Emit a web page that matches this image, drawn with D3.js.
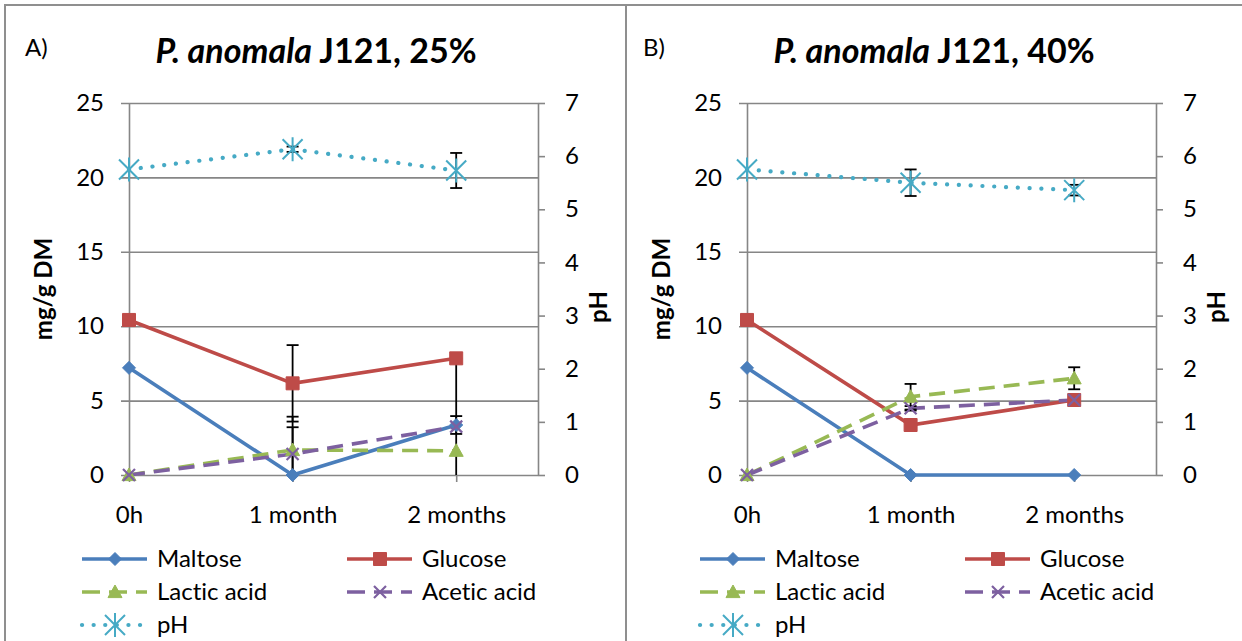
<!DOCTYPE html>
<html><head><meta charset="utf-8">
<script src="https://cdn.jsdelivr.net/npm/d3@7"></script>
<style>
body{margin:0;background:#fff}
svg{display:block}
text{font-family:Lato,"Open Sans",sans-serif;fill:#000;font-variant-ligatures:none}
</style>
</head><body>
<svg id="chart" width="1242" height="641"></svg>
<script>
// ---------- data ----------
const categories = ["0h", "1 month", "2 months"];
const leftTicks = [0, 5, 10, 15, 20, 25];
const rightTicks = [0, 1, 2, 3, 4, 5, 6, 7];
const seriesNames = ["Maltose", "Glucose", "Lactic acid", "Acetic acid", "pH"];

// Panel A: 25%
const maltoseA = [7.2, 0, 3.36];
const glucoseA = [10.42, 6.16, 7.84];
const lacticA  = [0, 1.68, 1.63];
const aceticA  = [0, 1.41, 3.25];
const pHA      = [5.75, 6.13, 5.73];
const maltoseErrA = [0, 3.92, 0.6];
const glucoseErrA = [0, 2.57, 0];
const lacticErrA  = [0, 0, 6.2];
const aceticErrA  = [0, 1.8, 0];
const pHErrA      = [0, 0.05, 0.33];

// Panel B: 40%
const maltoseB = [7.2, 0, 0];
const glucoseB = [10.42, 3.36, 5.04];
const lacticB  = [0, 5.26, 6.5];
const aceticB  = [0, 4.48, 5.04];
const pHB      = [5.75, 5.50, 5.36];
const maltoseErrB = [0, 0, 0];
const glucoseErrB = [0, 0, 0];
const lacticErrB  = [0, 0.86, 0.74];
const aceticErrB  = [0, 0.15, 0];
const pHErrB      = [0, 0.25, 0.1];

const panels = [
  {label: "A)", pct: "25%", values: [maltoseA, glucoseA, lacticA, aceticA, pHA],
   errors: [maltoseErrA, glucoseErrA, lacticErrA, aceticErrA, pHErrA]},
  {label: "B)", pct: "40%", values: [maltoseB, glucoseB, lacticB, aceticB, pHB],
   errors: [maltoseErrB, glucoseErrB, lacticErrB, aceticErrB, pHErrB]}
];

// ---------- styles ----------
const colors = ["#4A7EBB", "#BE4B48", "#98B954", "#7D60A0", "#46AAC5"];
const markers = ["diamond", "square", "triangle", "x", "star"];
const dashes = [null, null, "16,9", "16,9", "0.1,11.7"];
const axisSide = ["L", "L", "L", "L", "R"];
const gridColor = "#868686";
const FS = 24;

const svg = d3.select("#chart");

// frame
svg.append("path")
  .attr("d", "M5,641 V5 H1242 M626,5 V641")
  .attr("fill", "none").attr("stroke", "#8f8f8f").attr("stroke-width", 2);

function markerPath(type, s) {
  const h = s / 2;
  switch (type) {
    case "diamond": return `M0,${-h}L${h},0L0,${h}L${-h},0Z`;
    case "square": return `M${-h},${-h}H${h}V${h}H${-h}Z`;
    case "triangle": return `M0,${-h}L${h},${h*0.8}L${-h},${h*0.8}Z`;
    case "x": return `M${-h},${-h}L${h},${h}M${-h},${h}L${h},${-h}`;
    case "star": return `M${-h},${-h}L${h},${h}M${-h},${h}L${h},${-h}M0,${-h*1.2}V${h*1.2}`;
  }
}
const markerSize = [13, 13, 14, 12, 20];

function drawMarker(g, type, i, cx, cy) {
  const p = g.append("path").attr("d", markerPath(type, markerSize[i]))
    .attr("transform", `translate(${cx},${cy})`);
  if (type === "x" || type === "star") {
    p.attr("fill", "none").attr("stroke", colors[i]).attr("stroke-width", type === "star" ? 2 : 2.2);
  } else {
    p.attr("fill", colors[i]).attr("stroke", colors[i]).attr("stroke-width", 1);
  }
}

function drawPanel(ox, panel) {
  const g = svg.append("g").attr("transform", `translate(${ox},0)`);
  const x = d3.scaleLinear().domain([0, 2.5]).range([129, 538]);
  const yL = d3.scaleLinear().domain([0, 25]).range([475, 103]);
  const yR = d3.scaleLinear().domain([0, 7]).range([475, 103]);
  const W = 538 - 129;

  // left axis + gridlines
  const la = g.append("g").attr("transform", "translate(129,0)")
    .call(d3.axisLeft(yL).tickValues(leftTicks).tickSizeInner(-W).tickSizeOuter(0).tickPadding(25));
  la.selectAll(".tick line").attr("x1", -8).attr("stroke", gridColor).attr("stroke-width", 1.6);
  la.select(".domain").attr("stroke", gridColor).attr("stroke-width", 1.6);
  la.selectAll("text").attr("font-size", FS);

  // right axis
  const ra = g.append("g").attr("transform", "translate(538,0)")
    .call(d3.axisRight(yR).tickValues(rightTicks).tickFormat(d3.format("d"))
      .tickSize(7).tickSizeOuter(0).tickPadding(20));
  ra.selectAll(".tick line").attr("stroke", gridColor).attr("stroke-width", 1.6);
  ra.select(".domain").attr("stroke", gridColor).attr("stroke-width", 1.6);
  ra.selectAll("text").attr("font-size", FS);

  // category ticks and labels
  const xa = g.append("g").attr("transform", "translate(0,475)")
    .call(d3.axisBottom(x).tickValues(categories.map((c, i) => i))
      .tickFormat(i => categories[i]).tickSize(7).tickSizeOuter(0).tickPadding(24));
  xa.select(".domain").remove();
  xa.selectAll(".tick line").attr("stroke", gridColor).attr("stroke-width", 1.6);
  xa.selectAll("text").attr("font-size", FS);

  // titles
  g.append("text").attr("x", 25).attr("y", 56).attr("font-size", 24).text(panel.label);
  const t = g.append("text").attr("x", 316).attr("y", 63).attr("text-anchor", "middle")
    .attr("font-size", 34).attr("font-weight", "bold");
  t.append("tspan").attr("font-style", "italic").text("P. anomala");
  t.append("tspan").attr("font-style", "normal").text(" J121, " + panel.pct);
  g.append("text").attr("transform", "translate(52,289) rotate(-90)")
    .attr("text-anchor", "middle").attr("font-size", FS).attr("font-weight", "bold").text("mg/g DM");
  g.append("text").attr("transform", "translate(607,307) rotate(-90)")
    .attr("text-anchor", "middle").attr("font-size", FS).attr("font-weight", "bold").text("pH");

  // lines
  panel.values.forEach((vals, i) => {
    const y = axisSide[i] === "L" ? yL : yR;
    const line = d3.line().x((d, j) => x(j)).y(d => y(d));
    g.append("path").datum(vals).attr("d", line)
      .attr("fill", "none").attr("stroke", colors[i])
      .attr("stroke-width", i === 4 ? 4.2 : 3.6)
      .attr("stroke-linecap", i === 4 ? "round" : "butt")
      .attr("stroke-dasharray", dashes[i]);
  });

  // error bars
  panel.values.forEach((vals, i) => {
    const y = axisSide[i] === "L" ? yL : yR;
    const maxV = axisSide[i] === "L" ? 25 : 7;
    vals.forEach((v, j) => {
      const e = panel.errors[i][j];
      if (!e) return;
      const lo = v - e, hi = v + e;
      const y1 = y(Math.max(lo, 0)), y2 = y(Math.min(hi, maxV));
      g.append("line").attr("x1", x(j)).attr("x2", x(j)).attr("y1", y1).attr("y2", y2)
        .attr("stroke", "#000").attr("stroke-width", 1.8);
      [lo, hi].forEach(b => {
        if (b < 0 || b > maxV) return;
        g.append("line").attr("x1", x(j) - 6).attr("x2", x(j) + 6)
          .attr("y1", y(b)).attr("y2", y(b)).attr("stroke", "#000").attr("stroke-width", 1.8);
      });
    });
  });

  // markers
  panel.values.forEach((vals, i) => {
    const y = axisSide[i] === "L" ? yL : yR;
    vals.forEach((v, j) => drawMarker(g, markers[i], i, x(j), y(v)));
  });

  // legend
  const legPos = [[82, 559], [347, 559], [82, 592], [347, 592], [82, 625]];
  seriesNames.forEach((name, i) => {
    const [lx, ly] = legPos[i];
    g.append("line").attr("x1", lx).attr("x2", lx + 65).attr("y1", ly).attr("y2", ly)
      .attr("stroke", colors[i]).attr("stroke-width", i === 4 ? 4.2 : 3.6)
      .attr("stroke-linecap", i === 4 ? "round" : "butt")
      .attr("stroke-dasharray", i === 4 ? "0.1,11.5" : (dashes[i] ? "18,9" : null));
    drawMarker(g, markers[i], i, lx + 33, ly);
    g.append("text").attr("x", lx + 75).attr("y", ly).attr("dy", "0.35em")
      .attr("font-size", FS).text(name);
  });
}

drawPanel(0, panels[0]);
drawPanel(618, panels[1]);
</script>
</body></html>
